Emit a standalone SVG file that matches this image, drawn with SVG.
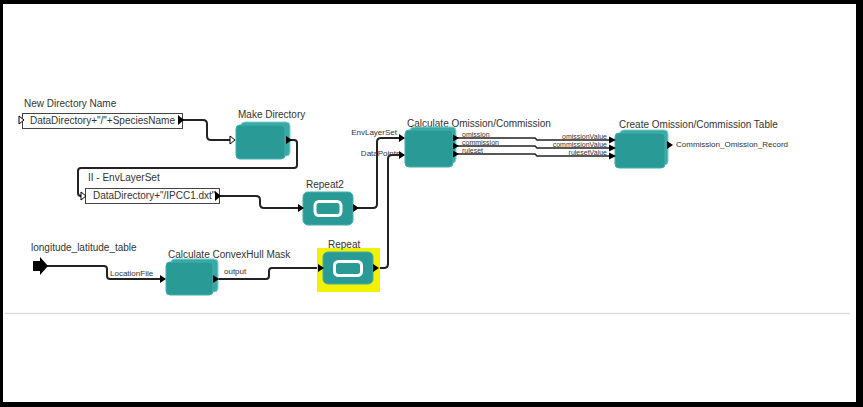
<svg xmlns="http://www.w3.org/2000/svg" width="863" height="407" viewBox="0 0 863 407">
<style>
text{font-family:"Liberation Sans",Arial,sans-serif;fill:#333}
.lbl{font-size:10px}
.sm{font-size:8px}
.xs{font-size:7px}
.box{fill:#fff;stroke:#444;stroke-width:1}
.front{fill:#2a9a97;stroke:#3fb0ad;stroke-width:1}
.back{fill:#3aa8a5;stroke:#7fd0cd;stroke-width:1}
.conn path{fill:none;stroke:#222;stroke-width:2}
.conn path.thin{stroke-width:1.6}
.out{fill:#000}
.in{fill:#fff;stroke:#000;stroke-width:1}
.inner{fill:#2a9a97;stroke:#fff;stroke-width:3}
</style>
<rect x="0" y="0" width="863" height="407" fill="#000"/>
<rect x="3" y="4" width="853" height="398" fill="#fff"/>
<line x1="5" y1="313.5" x2="850" y2="313.5" stroke="#ddd" stroke-width="1.5"/>

<g id="connectors" class="conn">
<path d="M183,120 H203 Q207,120 207,124 V136 Q207,140 211,140 H233"/>
<path d="M290,140 H294 Q297,140 297,143 V165 Q297,168 294,168 H81 Q78,168 78,171 V193 Q78,196 81,196 H84"/>
<path d="M220,196 H256 Q260,196 260,200 V204 Q260,208 264,208 H303"/>
<path d="M355,208 H373 Q377,208 377,204 V142 Q377,138 381,138 H404"/>
<path d="M47,266 H104 Q107,266 107,269 V276 Q107,279 110,279 H163"/>
<path d="M216,279 H266 Q269,279 269,276 V271 Q269,268 272,268 H322"/>
<path d="M375,268 H384 Q388,268 388,264 V159 Q388,155 392,155 H404"/>
<path class="thin" d="M457,138 H535 L537,140 H612"/>
<path class="thin" d="M457,146 H535 L537,148 H612"/>
<path class="thin" d="M457,154 H535 L537,156 H612"/>
</g>

<g id="new-directory-name">
<text class="lbl" x="24" y="107">New Directory Name</text>
<rect class="box" x="22.5" y="113.5" width="160" height="15"/>
<text class="lbl" x="30" y="124">DataDirectory+"/"+SpeciesName</text>
<path class="in" d="M19,116 L24,120 L19,124 Z"/>
<path class="out" d="M178,115 L184,120 L178,125 Z"/>
</g>

<g id="make-directory">
<text class="lbl" x="238" y="118">Make Directory</text>
<rect class="back" x="241" y="122" width="49" height="34" rx="4"/>
<rect class="front" x="236" y="125" width="49" height="34" rx="4"/>
<path class="in" d="M230,136 L235,140 L230,144 Z"/>
<path class="out" d="M286,136 L292,140 L286,144 Z"/>
</g>

<g id="envlayerset">
<text class="lbl" x="88" y="181">II - EnvLayerSet</text>
<rect class="box" x="85.5" y="188.5" width="134" height="15"/>
<text class="lbl" x="93" y="199">DataDirectory+"/IPCC1.dxt"</text>
<path class="in" d="M81,192 L86,196 L81,200 Z"/>
<path class="out" d="M215,191 L221,196 L215,201 Z"/>
</g>

<g id="repeat2">
<text class="lbl" x="306" y="188">Repeat2</text>
<rect class="front" x="303" y="192" width="50" height="33" rx="5"/>
<rect class="inner" x="315" y="201.5" width="26" height="14" rx="4"/>
<path class="out" d="M298,204 L304,208 L298,212 Z"/>
<path class="out" d="M353,204 L359,208 L353,212 Z"/>
</g>

<g id="longitude-latitude-table">
<text class="lbl" x="31" y="251">longitude_latitude_table</text>
<path fill="#000" d="M33,261 H40 V257 L48,266 L40,275 V271 H33 Z"/>
</g>

<g id="convexhull">
<text class="lbl" x="168" y="258">Calculate ConvexHull Mask</text>
<rect class="back" x="171" y="259" width="47" height="33" rx="4"/>
<rect class="front" x="166" y="262" width="47" height="33" rx="4"/>
<text class="sm" x="110" y="276">LocationFile</text>
<text class="sm" x="224" y="274">output</text>
<path class="out" d="M160,275 L166,279 L160,283 Z"/>
<path class="out" d="M213,275 L219,279 L213,283 Z"/>
</g>

<g id="repeat">
<rect x="317" y="248" width="63" height="44" fill="#f2f200"/>
<text class="lbl" x="328" y="248">Repeat</text>
<rect class="front" x="323" y="252" width="50" height="32" rx="5"/>
<rect class="inner" x="334.5" y="261.5" width="27" height="14" rx="4"/>
<path class="out" d="M318,264 L324,268 L318,272 Z"/>
<path class="out" d="M373,264 L379,268 L373,272 Z"/>
</g>

<g id="calc-omission">
<text class="lbl" x="407" y="127">Calculate Omission/Commission</text>
<rect class="back" x="410" y="127" width="46" height="36" rx="4"/>
<rect class="front" x="405" y="130" width="48" height="37" rx="4"/>
<text class="sm" x="397" y="135" text-anchor="end">EnvLayerSet</text>
<text class="sm" x="400" y="156" text-anchor="end">DataPoints</text>
<path class="out" d="M399,134 L405,138 L399,142 Z"/>
<path class="out" d="M399,151 L405,155 L399,159 Z"/>
<path class="out" d="M453,134.5 L459,138 L453,141.5 Z"/>
<path class="out" d="M453,142.5 L459,146 L453,149.5 Z"/>
<path class="out" d="M453,150.5 L459,154 L453,157.5 Z"/>
<text class="xs" x="462" y="137">omission</text>
<text class="xs" x="462" y="145">commission</text>
<text class="xs" x="462" y="153">ruleset</text>
</g>

<g id="create-table">
<text class="lbl" x="619" y="128">Create Omission/Commission Table</text>
<rect class="back" x="620" y="130" width="48" height="35" rx="4"/>
<rect class="front" x="615" y="133" width="50" height="35" rx="4"/>
<text class="xs" x="607" y="139" text-anchor="end">omissionValue</text>
<text class="xs" x="607" y="147" text-anchor="end">commissionValue</text>
<text class="xs" x="607" y="155" text-anchor="end">rulesetValue</text>
<path class="out" d="M609,136.5 L616,140 L609,143.5 Z"/>
<path class="out" d="M609,144.5 L616,148 L609,151.5 Z"/>
<path class="out" d="M609,152.5 L616,156 L609,159.5 Z"/>
<path class="out" d="M667,141 L673,145 L667,149 Z"/>
<text class="sm" x="676" y="147">Commission_Omission_Record</text>
</g>
</svg>
